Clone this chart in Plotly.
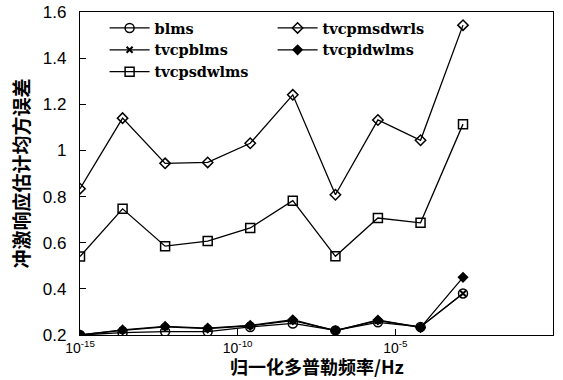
import plotly.graph_objects as go

# Normalised Doppler frequency (Hz), log-spaced sample points
freq = [1e-15, 2.24e-14, 5e-13, 1.12e-11, 2.5e-10, 5.6e-9, 1.26e-7, 2.8e-6, 6.3e-5, 1.4e-3]

# Mean-square error of impulse response estimate per algorithm
blms = [0.20, 0.21, 0.215, 0.215, 0.235, 0.25, 0.22, 0.255, 0.235, 0.38]
tvcpblms = [0.20, 0.22, 0.235, 0.228, 0.24, 0.262, 0.22, 0.262, 0.235, 0.38]
tvcpsdwlms = [0.54, 0.747, 0.585, 0.607, 0.664, 0.782, 0.541, 0.707, 0.686, 1.114]
tvcpmsdwrls = [0.834, 1.14, 0.944, 0.948, 1.031, 1.241, 0.808, 1.132, 1.044, 1.543]
tvcpidwlms = [0.20, 0.222, 0.237, 0.23, 0.242, 0.266, 0.218, 0.265, 0.232, 0.45]

x_tickvals = [1e-15, 1e-10, 1e-5, 1]
x_ticktext = ["10<sup>-15</sup>", "10<sup>-10</sup>", "10<sup>-5</sup>", "10<sup>0</sup>"]
y_tickvals = [0.2, 0.4, 0.6, 0.8, 1.0, 1.2, 1.4, 1.6]
y_ticktext = ["0.2", "0.4", "0.6", "0.8", "1", "1.2", "1.4", "1.6"]

x_title = "归一化多普勒频率/Hz"
y_title = "冲激响应估计均方误差"

series = [
    ("blms", blms, dict(symbol="circle-open", size=9), 1),
    ("tvcpblms", tvcpblms, dict(symbol="x-thin-open", size=6, line=dict(width=2)), 3),
    ("tvcpsdwlms", tvcpsdwlms, dict(symbol="square-open", size=9), 5),
    ("tvcpmsdwrls", tvcpmsdwrls, dict(symbol="diamond-open", size=8), 2),
    ("tvcpidwlms", tvcpidwlms, dict(symbol="diamond", size=7), 4),
]

fig = go.Figure()
for name, vals, marker, rank in series:
    marker = dict(marker, color="black")
    if "line" not in marker:
        marker["line"] = dict(width=1.5, color="black")
    else:
        marker["line"]["color"] = "black"
    fig.add_trace(go.Scatter(
        x=freq, y=vals, name=name, mode="lines+markers",
        line=dict(color="black", width=1.3),
        marker=marker, legendrank=rank,
    ))

# x-axis title placed as an annotation just below the tick labels
fig.add_annotation(
    text=x_title, xref="paper", yref="paper", x=0.5, y=-0.097,
    xanchor="center", yanchor="middle", showarrow=False,
    font=dict(family="Noto Sans CJK SC", size=18, color="black", weight="bold"),
)

fig.update_layout(
    width=563, height=380,
    margin=dict(l=80, r=10, t=12, b=45, autoexpand=False),
    plot_bgcolor="white", paper_bgcolor="white",
    showlegend=True,
    legend=dict(
        orientation="h", entrywidth=113, entrywidthmode="pixels",
        x=0.052, y=1.0, xanchor="left", yanchor="top",
        bgcolor="rgba(0,0,0,0)", tracegroupgap=0, itemwidth=40,
        font=dict(family="DejaVu Serif", size=14.5, color="black", weight="bold"),
    ),
    xaxis=dict(
        type="log", range=[-15, 0],
        tickvals=x_tickvals, ticktext=x_ticktext,
        ticks="inside", ticklen=6, tickcolor="black",
        ticklabelstandoff=0,
        showline=True, linecolor="black", linewidth=1.3, mirror=True,
        showgrid=False, zeroline=False, automargin=False,
        tickfont=dict(family="Liberation Sans", size=14, color="black"),
    ),
    yaxis=dict(
        range=[0.2, 1.6],
        tickvals=y_tickvals, ticktext=y_ticktext,
        ticks="inside", ticklen=6, tickcolor="black",
        ticklabelstandoff=9,
        showline=True, linecolor="black", linewidth=1.3, mirror=True,
        showgrid=False, zeroline=False, automargin=False,
        tickfont=dict(family="Liberation Sans", size=17, color="black"),
        title=dict(text=y_title, standoff=8,
                   font=dict(family="Noto Sans CJK SC", size=19, color="black", weight="bold")),
    ),
)

fig.write_html("out.html")
